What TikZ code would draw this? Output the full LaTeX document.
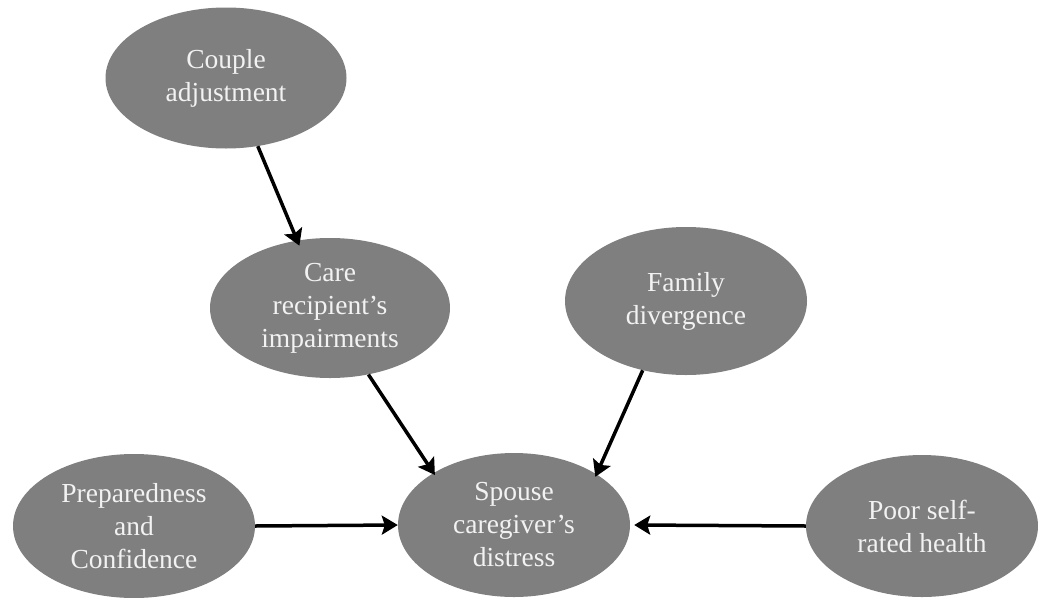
\documentclass[tikz,border=0pt]{standalone}
\usepackage{fontspec}
\setmainfont{Liberation Serif}
\usetikzlibrary{shapes.geometric,arrows.meta}
\definecolor{ovalgray}{HTML}{7F7F7F}
\definecolor{ovaltext}{HTML}{F2F2F2}
\tikzset{
  oval/.style={ellipse, fill=ovalgray, draw=none, inner sep=0pt, text=ovaltext,
    align=center, font=\fontsize{27.5}{33}\selectfont},
  link/.style={line width=3.5pt, -{Stealth[length=16pt,width=19pt,inset=3pt]}}
}
\begin{document}
\begin{tikzpicture}[x=1pt,y=-1pt]
\useasboundingbox (0,0) rectangle (1038,597);
\node[oval, minimum width=241pt, minimum height=141pt] (couple) at (226,78) {Couple\\adjustment};
\node[oval, minimum width=240pt, minimum height=140pt] (care) at (330,308) {Care\\recipient’s\\impairments};
\node[oval, minimum width=242pt, minimum height=148pt] (family) at (686,301) {Family\\divergence};
\node[oval, minimum width=232pt, minimum height=144pt] (spouse) at (514,525) {Spouse\\caregiver’s\\distress};
\node[oval, minimum width=242pt, minimum height=144pt] (prep) at (134,526) {Preparedness\\and\\Confidence};
\node[oval, minimum width=232pt, minimum height=142pt] (poor) at (922,526) {Poor self-\\rated health};
\draw[link] (couple.-65) -- ([shift={(-3pt,-6pt)}]care.112);
\draw[link] (care.-60) -- ([shift={(-2pt,-4pt)}]spouse.145);
\draw[link] (family.-122) -- ([shift={(1pt,-4pt)}]spouse.33);
\draw[link] (prep.east) -- (spouse.west);
\draw[link] (poor.west) -- ([xshift=4pt]spouse.east);
\end{tikzpicture}
\end{document}
